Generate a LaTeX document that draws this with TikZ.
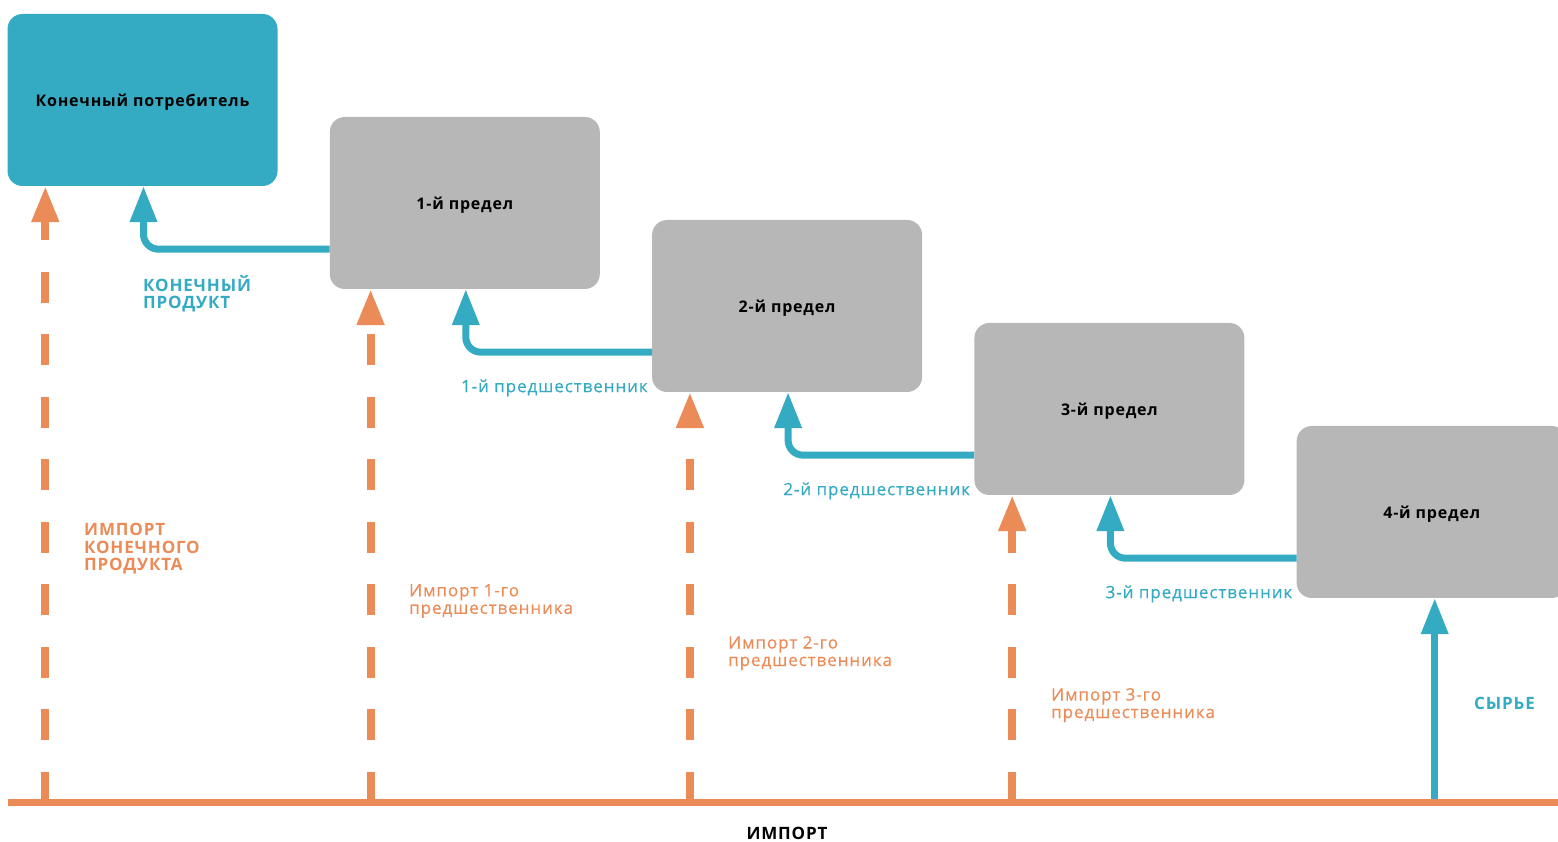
\documentclass[tikz,border=0pt]{standalone}
\usepackage{fontspec}
\setmainfont{Open Sans}[LetterSpace=5]
\newfontfamily\medfont{Open Sans}[LetterSpace=5.5,FakeBold=0.4]
\usetikzlibrary{arrows.meta}
\definecolor{T}{RGB}{52,170,195}
\definecolor{O}{RGB}{235,139,88}
\definecolor{G}{RGB}{183,183,183}
\def\Xscale{1558}
\def\Yscale{842}
\def\Dx{322.3}
\def\Dy{103}

\begin{document}
\begin{tikzpicture}[x=1pt,y=1pt,
    stage/.style={rounded corners=15pt,minimum width=270pt,minimum height=172pt,inner sep=0pt,text depth=0pt,font=\fontsize{16}{18}\selectfont\bfseries},
    flow/.style={T,line width=7pt,rounded corners=15pt,-{Triangle[length=36pt,width=26pt]}},
    imp/.style={O,line width=8pt,dash pattern=on 31pt off 31.5pt,-{Triangle[length=36pt,width=26pt]}},
    tlab/.style={T,inner sep=0pt,align=left,font=\fontsize{17}{17.5}\selectfont\bfseries},
    olab/.style={O,inner sep=0pt,align=left,font=\fontsize{17}{17.5}\selectfont\medfont}]
    \path[use as bounding box] (0,0) rectangle (\Xscale,\Yscale);
    \coordinate (base) at (8,39);
    \node[stage,fill=T] (n0) at (142.5,742) {Конечный потребитель};
    \foreach \i in {1,...,4} {\node[stage,fill=G] (n\i) at ({142.5+\i*\Dx},{742-\i*\Dy}) {\i-й предел};}
    \foreach \i/\s in {0/38,1/41,2/38,3/38} {
        \coordinate (up\i) at ([xshift=\s pt]n\i.south west);
        \coordinate (dn\i) at (up\i |- base);
        \draw[imp] (dn\i) -- (up\i);
    }
    \foreach \i/\j in {1/0,2/1,3/2,4/3} {\draw[flow] ([yshift=40pt]n\i.south west) -| ([xshift=1pt]n\j.south);}
    \draw[flow] ([xshift=3pt]n4.south |- base) -- ([xshift=3pt]n4.south);
    \draw[O,line width=7pt] (base) -- (\Xscale,39);
    \node[tlab,anchor=north west] (fp) at (143,567) {КОНЕЧНЫЙ\\ПРОДУКТ};
    \foreach \i/\j in {1/2,2/3,3/4} {\node[tlab,font=\fontsize{17}{17.5}\selectfont\medfont,anchor=base east] (p\i) at ([xshift=-4pt]n\j.south west) {\i-й предшественник};}
    \node[tlab,anchor=west] (raw) at (1474,139) {СЫРЬЕ};
    \node[olab,font=\fontsize{17}{17.5}\selectfont\bfseries,anchor=north west] (ifp) at (84,319) {ИМПОРТ\\КОНЕЧНОГО\\ПРОДУКТА};
    \node[olab,anchor=north west] (ip1) at (409,258) {Импорт 1-го\\предшественника};
    \node[olab,anchor=north west] (ip2) at (728,206) {Импорт 2-го\\предшественника};
    \node[olab,anchor=north west] (ip3) at (1051,154) {Импорт 3-го\\предшественника};
    \node[font=\fontsize{17}{18}\selectfont\bfseries] (imp) at (787,9) {ИМПОРТ};
\end{tikzpicture}
\end{document}
